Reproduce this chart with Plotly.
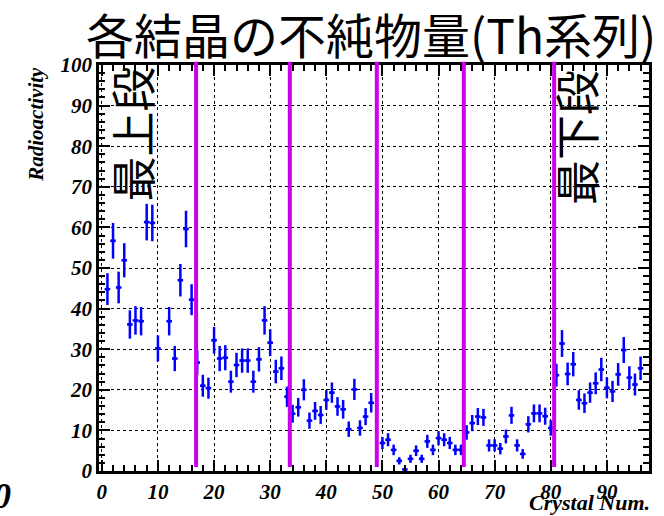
import plotly.graph_objects as go

# Measured radioactivity (Th series) per crystal; None = no entry
crystal = list(range(1, 97))
activity = [
    44.8, 56.7, 45.2, 51.9, 36.1, 37.1, 36.9, 61.3, 61.1, 30.2,
    None, 36.9, 27.7, 47.0, 59.6, 42.2, 26.7, 21.0, 20.4, 32.2,
    27.7, 27.9, 22.0, 26.1, 27.2, 27.2, 22.0, 27.5, 37.1, 31.6,
    24.5, 25.3, 18.3, 14.1, 15.7, 20.0, 12.4, 14.8, 13.8, 17.5,
    19.3, 15.9, 15.2, 10.3, 20.1, 10.6, 13.4, 16.8, None, 6.9,
    7.7, 5.2, 2.5, 0.4, 3.0, 5.0, 3.0, 7.3, 5.2, 8.1,
    7.7, 6.9, 5.2, 5.2, 9.5, 11.8, 13.4, 13.2, 6.3, 6.3,
    5.5, 8.5, 13.7, 6.3, 4.2, 11.5, 14.2, 14.2, 13.5, 10.6,
    23.6, 31.4, 23.9, 26.3, 17.5, 16.7, 19.3, 21.6, 25.0, 20.5,
    19.6, 23.8, 29.8, 23.0, 21.3, 25.3,
]
activity_err = [
    3.9, 4.4, 3.9, 4.2, 3.5, 3.5, 3.5, 4.5, 4.5, 3.2,
    None, 3.5, 3.1, 4.0, 4.5, 3.8, 3.0, 2.7, 2.6, 3.3,
    3.1, 3.1, 2.7, 3.0, 3.0, 3.0, 2.7, 3.0, 3.5, 3.3,
    2.9, 2.9, 2.5, 2.2, 2.3, 2.6, 2.0, 2.2, 2.2, 2.4,
    2.5, 2.3, 2.3, 1.9, 2.6, 1.9, 2.1, 2.4, None, 1.5,
    1.6, 1.3, 0.9, 0.4, 1.0, 1.3, 1.0, 1.6, 1.3, 1.7,
    1.6, 1.5, 1.3, 1.3, 1.8, 2.0, 2.1, 2.1, 1.5, 1.5,
    1.4, 1.7, 2.1, 1.5, 1.2, 2.0, 2.2, 2.2, 2.1, 1.9,
    2.8, 3.3, 2.8, 3.0, 2.4, 2.4, 2.5, 2.7, 2.9, 2.6,
    2.6, 2.8, 3.2, 2.8, 2.7, 2.9,
]
bin_half_width = [0.5] * len(crystal)

# Layer boundaries (in crystal number)
layer_bounds = [16.8, 33.5, 49.0, 64.5, 80.6]

W, H = 664, 516
L, R, T, B = 99, 13, 65, 43
PW, PH = W - L - R, H - T - B

fig = go.Figure()
fig.add_trace(go.Scatter(
    x=crystal, y=activity, mode="markers",
    marker=dict(color="#0000ff", size=3, symbol="square"),
    error_y=dict(type="data", array=activity_err, color="#0000ff",
                 thickness=2.5, width=0),
    error_x=dict(type="data", array=bin_half_width, color="#0000ff",
                 thickness=2.5, width=0),
    showlegend=False,
))

for xb in layer_bounds:
    fig.add_shape(type="line", xref="x", yref="paper",
                  x0=xb, x1=xb, y0=0.01, y1=1.008,
                  line=dict(color="#cc00ee", width=4), layer="above")

tick_font = dict(family="Liberation Serif", size=21, color="black",
                 weight="bold", style="italic")

axis_common = dict(
    showline=True, linecolor="black", linewidth=2.5, mirror="ticks",
    ticks="inside", ticklen=11, tickwidth=1.5, tickcolor="black",
    showgrid=True, gridcolor="black", griddash="dot", gridwidth=1.3,
    zeroline=False, tickfont=tick_font,
    minor=dict(dtick=2, ticks="inside", ticklen=6, tickwidth=1.5,
               tickcolor="black", showgrid=False),
)

fig.update_xaxes(range=[-0.5, 97.5], tick0=0, dtick=10, **axis_common)
fig.update_yaxes(range=[0, 100], tick0=0, dtick=10, **axis_common)

def px_x(p):
    return (p - L) / PW

def px_y(p):
    return 1 - (p - T) / PH

annotations = [
    dict(text="各結晶の不純物量(Th系列)", x=px_x(372), y=px_y(33),
         xanchor="center", yanchor="middle",
         font=dict(family="Noto Sans CJK JP", size=48, color="black")),
    dict(text="最上段", x=px_x(132), y=px_y(134), textangle=-90,
         xanchor="center", yanchor="middle",
         font=dict(family="Noto Sans CJK JP", size=45, color="black")),
    dict(text="最下段", x=px_x(577), y=px_y(138), textangle=-90,
         xanchor="center", yanchor="middle",
         font=dict(family="Noto Sans CJK JP", size=45, color="black")),
    dict(text="Radioactivity", x=px_x(35), y=1.0, textangle=-90,
         xanchor="center", yanchor="top",
         font=dict(family="Liberation Serif", size=21, color="black",
                   weight="bold", style="italic")),
    dict(text="Crystal Num.", x=px_x(654), y=px_y(505),
         xanchor="right", yanchor="middle",
         font=dict(family="Liberation Serif", size=22, color="black",
                   weight="bold", style="italic")),
    dict(text="0", x=px_x(13), y=px_y(498),
         xanchor="right", yanchor="middle",
         font=dict(family="Liberation Serif", size=36, color="black",
                   weight="bold", style="italic")),
]
for a in annotations:
    a.update(xref="paper", yref="paper", showarrow=False)

fig.update_layout(
    width=W, height=H, autosize=False,
    margin=dict(l=L, r=R, t=T, b=B, pad=0),
    paper_bgcolor="white", plot_bgcolor="white",
    annotations=annotations,
)

fig.write_html("out.html")
